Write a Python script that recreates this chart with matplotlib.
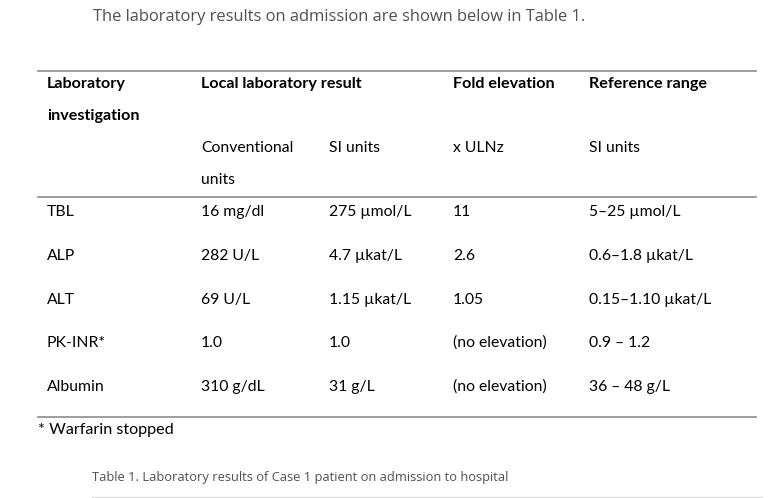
import matplotlib
matplotlib.use("Agg")
import matplotlib.pyplot as plt
from matplotlib.lines import Line2D

W, H = 783, 498

intro = "The laboratory results on admission are shown below in Table 1."
caption = "Table 1. Laboratory results of Case 1 patient on admission to hospital"
footnote = "* Warfarin stopped"

header_top = ["Laboratory", "Local laboratory result", "", "Fold elevation", "Reference range"]
header_mid = ["investigation", "", "", "", ""]
header_sub = ["", "Conventional", "SI units", "x ULNz", "SI units"]
header_sub2 = ["", "units", "", "", ""]

tests = ["TBL", "ALP", "ALT", "PK-INR*", "Albumin"]
conventional = ["16 mg/dl", "282 U/L", "69 U/L", "1.0", "310 g/dL"]
si_units = ["275 µmol/L", "4.7 µkat/L", "1.15 µkat/L", "1.0", "31 g/L"]
fold = ["11", "2.6", "1.05", "(no elevation)", "(no elevation)"]
ref_range = ["5–25 µmol/L", "0.6–1.8 µkat/L", "0.15–1.10 µkat/L", "0.9 – 1.2", "36 – 48 g/L"]

col_x = [47, 201, 329, 453, 589]
table_font = ["Lato", "DejaVu Sans"]
web_font = ["Open Sans", "DejaVu Sans"]
fs = 11.3


def px(x, y):
    return x / W, 1 - y / H


def put(x, y, s, **kw):
    fx, fy = px(x, y)
    fig.text(fx, fy, s, va="center", ha="left", **kw)


def hline(x0, x1, y, color="#8c8c8c", lw=1.2):
    (a, b), (c, d) = px(x0, y), px(x1, y)
    fig.add_artist(Line2D([a, c], [b, d], color=color, lw=lw))


fig = plt.figure(figsize=(W / 100, H / 100), dpi=100)
fig.patch.set_facecolor("white")

put(93, 17, intro, fontsize=11.9, color="#505050", family=web_font)

hline(38, 756, 71)
for row, y, weight in [(header_top, 84, "bold"), (header_mid, 116, "bold"),
                       (header_sub, 148, "normal"), (header_sub2, 180, "normal")]:
    size = 11.6 if weight == "bold" else fs
    for x, s in zip(col_x, row):
        if s:
            put(x, y, s, fontsize=size, fontweight=weight, color="black", family=table_font)
hline(38, 756, 197)

row_y = [212, 256, 300, 343, 387]
for i, y in enumerate(row_y):
    cells = [tests[i], conventional[i], si_units[i], fold[i], ref_range[i]]
    for x, s in zip(col_x, cells):
        put(x, y, s, fontsize=fs, color="black", family=table_font)
hline(38, 756, 417)

put(38, 430, footnote, fontsize=11.6, color="black", family=table_font)

put(92, 477, caption, fontsize=9.3, color="#505050", family=web_font)
hline(92, 762, 497, color="#dddddd", lw=1)

fig.savefig("out.png", dpi=100, facecolor="white")
